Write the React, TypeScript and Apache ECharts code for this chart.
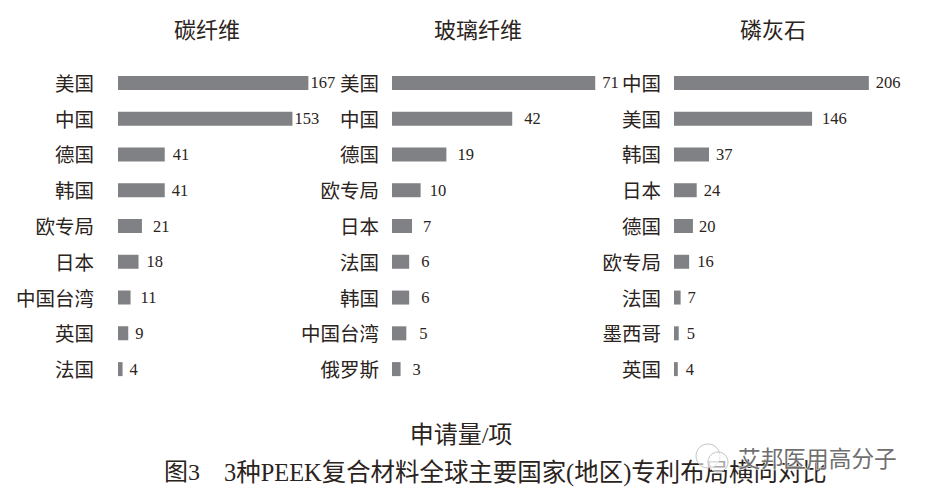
import React, { useEffect, useRef } from "react";
import * as echarts from "echarts";

const carbonCategories = ["美国", "中国", "德国", "韩国", "欧专局", "日本", "中国台湾", "英国", "法国"];
const carbonValues = [167, 153, 41, 41, 21, 18, 11, 9, 4];
const glassCategories = ["美国", "中国", "德国", "欧专局", "日本", "法国", "韩国", "中国台湾", "俄罗斯"];
const glassValues = [71, 42, 19, 10, 7, 6, 6, 5, 3];
const phosphateCategories = ["中国", "美国", "韩国", "日本", "德国", "欧专局", "法国", "墨西哥", "英国"];
const phosphateValues = [206, 146, 37, 24, 20, 16, 7, 5, 4];
const panelTitles = ["碳纤维", "玻璃纤维", "磷灰石"];
const axisName = "申请量/项";
const captionNumber = "图3";
const captionText = "3种PEEK复合材料全球主要国家(地区)专利布局横向对比";
const watermark = "艾邦医用高分子";

const carbonGaps = [2, 2, 8, 7, 11, 8, 10, 7, 7];
const glassGaps = [7, 12, 11, 9, 11, 12, 12, 13, 12];
const phosphateGaps = [7, 10, 7, 7, 6, 8, 7, 8, 8];

const FONT = '"Liberation Serif", "Noto Sans CJK SC", serif';
const TEXT = "#2b2320";
const BAR = "#808184";

export default function App() {
  const ref = useRef<HTMLDivElement>(null);
  useEffect(() => {
    const chart = echarts.init(ref.current!, undefined, { renderer: "svg" });
    const panels = [
      { cats: carbonCategories, vals: carbonValues, gaps: carbonGaps, left: 118, width: 228, max: 200, margin: 24, titleX: 207 },
      { cats: glassCategories, vals: glassValues, gaps: glassGaps, left: 392, width: 229, max: 80, margin: 13, titleX: 478 },
      { cats: phosphateCategories, vals: phosphateValues, gaps: phosphateGaps, left: 674, width: 227, max: 240, margin: 13, titleX: 773 },
    ];
    chart.setOption({
      animation: false,
      backgroundColor: "#ffffff",
      grid: panels.map((p) => ({ left: p.left, width: p.width, top: 65, height: 322 })),
      xAxis: panels.map((p, i) => ({
        type: "value", gridIndex: i, min: 0, max: p.max, show: false,
      })),
      yAxis: panels.map((p, i) => ({
        type: "category",
        gridIndex: i,
        data: p.cats,
        inverse: true,
        axisLine: { show: false },
        axisTick: { show: false },
        axisLabel: {
          margin: p.margin,
          formatter: "{a|{value}}",
          rich: { a: { fontFamily: FONT, fontSize: 19.5, color: TEXT, padding: [3, 0, 0, 0] } },
        },
      })),
      series: panels.map((p, i) => ({
        type: "bar",
        xAxisIndex: i,
        yAxisIndex: i,
        barWidth: 14,
        itemStyle: { color: BAR },
        data: p.vals.map((v, k) => ({
          value: v,
          label: {
            show: true,
            position: "right",
            distance: p.gaps[k],
            fontFamily: FONT,
            fontSize: 16.5,
            color: TEXT,
          },
        })),
      })),
      graphic: [
        ...panelTitles.map((t, i) => ({
          type: "text", x: panels[i].titleX, y: 30,
          style: { text: t, fontFamily: FONT, fontSize: 22, fill: TEXT, align: "center", verticalAlign: "middle" },
        })),
        { type: "text", x: 461, y: 435, style: { text: axisName, fontFamily: FONT, fontSize: 24, fill: TEXT, align: "center", verticalAlign: "middle" } },
        { type: "text", x: 164, y: 472, style: { text: captionNumber, fontFamily: FONT, fontSize: 24, fill: TEXT, align: "left", verticalAlign: "middle" } },
        { type: "text", x: 224, y: 472, style: { text: captionText, fontFamily: FONT, fontSize: 24.45, fill: TEXT, align: "left", verticalAlign: "middle" } },
        { type: "circle", shape: { cx: 708, cy: 456, r: 12 }, style: { fill: "rgba(255,255,255,0.6)", stroke: "#c4c4c4", lineWidth: 1 } },
        { type: "circle", shape: { cx: 718, cy: 462, r: 10 }, style: { fill: "rgba(255,255,255,0.6)", stroke: "#c4c4c4", lineWidth: 1 } },
        { type: "text", x: 738, y: 459, style: { text: watermark, fontFamily: FONT, fontSize: 22.7, fill: "#6f6f6f", stroke: "rgba(255,255,255,0.75)", lineWidth: 1.5, align: "left", verticalAlign: "middle" } },
      ],
    });
    return () => chart.dispose();
  }, []);
  return <div ref={ref} style={{ position: "fixed", left: 0, top: 0, width: 927, height: 499 }} />;
}
